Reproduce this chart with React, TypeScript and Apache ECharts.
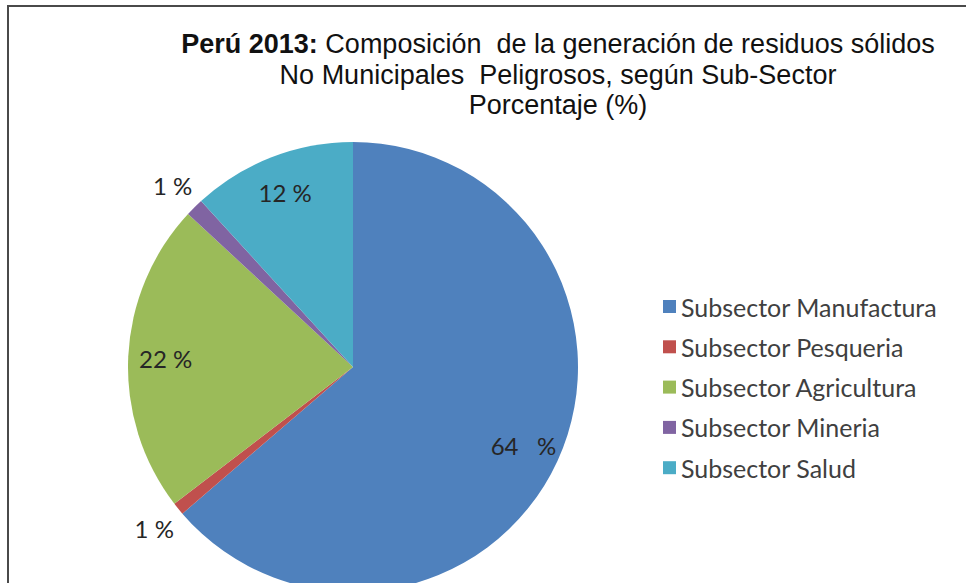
import React, { useEffect, useRef } from "react";
import * as echarts from "echarts";

const sectors = [
  "Subsector Manufactura",
  "Subsector Pesqueria",
  "Subsector Agricultura",
  "Subsector Mineria",
  "Subsector Salud",
];
const shares = [63.7, 0.9, 22.3, 1.3, 11.8];
const labelTexts = ["64   %", "1 %", "22 %", "1 %", "12 %"];
const labelOutside = [false, true, false, true, false];
const colors = ["#4F81BD", "#C0504D", "#9BBB59", "#8064A2", "#4BACC6"];

const titleLines = [
  "{b|Perú 2013:} Composición  de la generación de residuos sólidos",
  "No Municipales  Peligrosos, según Sub-Sector",
  "Porcentaje (%)",
];

export default function App() {
  const ref = useRef<HTMLDivElement>(null);
  useEffect(() => {
    if (!ref.current) return;
    const chart = echarts.init(ref.current, null, { renderer: "svg" });
    const labelFont = { fontFamily: "Lato", fontSize: 24, color: "#262626" };
    const base = sectors.map((n, i) => ({
      name: n,
      value: shares[i],
      itemStyle: { color: colors[i] },
    }));
    const ring = (outer: boolean) =>
      sectors.map((n, i) => ({
        name: n,
        value: shares[i],
        label: {
          show: labelOutside[i] === outer,
          formatter: labelTexts[i],
        },
      }));
    chart.setOption({
      animation: false,
      backgroundColor: "#ffffff",
      title: {
        text: titleLines.join("\n"),
        left: 553,
        top: 24,
        textAlign: "center",
        textStyle: {
          fontFamily: "Liberation Sans",
          fontSize: 27,
          fontWeight: "normal",
          color: "#111111",
          lineHeight: 30.5,
          rich: {
            b: {
              fontFamily: "Liberation Sans",
              fontSize: 27,
              fontWeight: "bold",
              color: "#111111",
              lineHeight: 30.5,
            },
          },
        },
      },
      legend: {
        orient: "vertical",
        left: 658,
        top: 289,
        data: sectors,
        icon: "rect",
        itemWidth: 13,
        itemHeight: 13,
        itemGap: 15.3,
        textStyle: { fontFamily: "Lato", fontSize: 25, color: "#404040" },
        selectedMode: false,
      },
      graphic: [
        {
          type: "rect",
          shape: { x: 8, y: 6, width: 1200, height: 1200 },
          style: { fill: "none", stroke: "#4a4a4a", lineWidth: 2 },
          silent: true,
        },
      ],
      series: [
        {
          type: "pie",
          center: [353, 367],
          radius: [0, 225],
          startAngle: 90,
          clockwise: true,
          avoidLabelOverlap: false,
          label: { show: false },
          labelLine: { show: false },
          data: base,
          emphasis: { disabled: true },
        },
        {
          type: "pie",
          center: [353, 367],
          radius: [144, 225],
          startAngle: 90,
          clockwise: true,
          silent: true,
          avoidLabelOverlap: false,
          itemStyle: { color: "rgba(0,0,0,0)", borderWidth: 0 },
          label: { position: "inside", ...labelFont },
          labelLine: { show: false },
          data: ring(false),
          emphasis: { disabled: true },
        },
        {
          type: "pie",
          center: [353, 367],
          radius: [240, 266],
          startAngle: 90,
          clockwise: true,
          silent: true,
          avoidLabelOverlap: false,
          itemStyle: { color: "rgba(0,0,0,0)", borderWidth: 0 },
          label: { position: "inside", ...labelFont },
          labelLine: { show: false },
          data: ring(true),
          emphasis: { disabled: true },
        },
      ],
    });
    return () => chart.dispose();
  }, []);
  return (
    <div
      ref={ref}
      style={{ position: "fixed", left: 0, top: 0, width: 966, height: 583 }}
    />
  );
}
